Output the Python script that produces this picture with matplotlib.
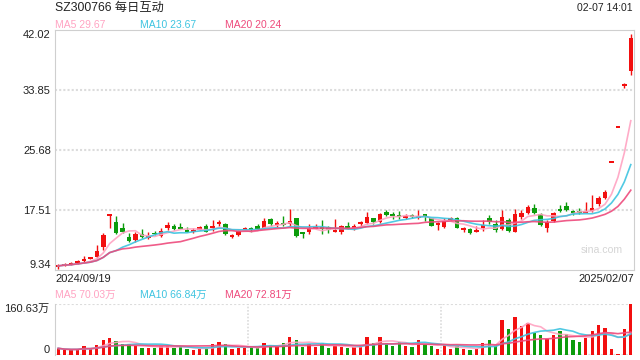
import numpy as np
import pandas as pd
import matplotlib
matplotlib.use("Agg")
import matplotlib.pyplot as plt

plt.rcParams['font.family'] = ['Liberation Sans', 'Noto Sans CJK SC']

# daily candles, 2024/09/19 .. 2025/02/07 (90 trading days)
opens = [9.85, 10.00, 10.10, 10.40, 10.60, 10.95, 11.15, 12.43, 16.85, 15.92,
         15.10, 13.87, 13.42, 14.20, 13.66, 14.42, 14.00, 15.00, 15.37, 15.15,
         14.83, 14.47, 14.83, 15.33, 15.00, 15.65, 15.60, 13.87, 14.11, 14.83,
         15.00, 15.33, 15.10, 16.28, 15.47, 15.74, 15.56, 16.38, 14.38, 14.47,
         15.00, 15.24, 15.15, 14.60, 14.56, 15.33, 15.15, 15.65, 15.74, 16.38,
         15.83, 17.28, 16.97, 16.70, 16.50, 16.79, 16.38, 16.97, 16.38, 15.50,
         15.20, 16.20, 16.47, 14.87, 14.92, 14.60, 15.00, 16.46, 15.56, 14.92,
         16.10, 14.56, 16.51, 17.14, 17.83, 16.92, 15.10, 16.01, 17.51, 18.00,
         17.37, 17.26, 17.24, 17.37, 18.28, 19.18, 24.00, 28.80, 34.40, 36.48]
highs = [10.16, 10.25, 10.40, 10.75, 11.20, 11.15, 12.74, 14.34, 16.92, 16.69,
         15.70, 14.42, 14.47, 14.92, 14.56, 14.65, 15.00, 15.83, 15.60, 15.70,
         15.20, 15.10, 15.33, 15.60, 16.19, 16.19, 15.70, 14.24, 14.79, 15.20,
         15.24, 15.60, 16.38, 16.38, 16.00, 16.69, 17.65, 16.47, 14.47, 15.65,
         15.65, 16.10, 15.37, 16.28, 15.47, 15.83, 15.65, 16.00, 17.28, 16.47,
         17.10, 17.47, 17.20, 17.37, 16.90, 16.97, 17.56, 17.00, 16.47, 15.92,
         16.38, 16.56, 16.56, 15.20, 15.00, 15.28, 16.10, 16.83, 16.10, 17.55,
         16.46, 17.65, 17.55, 18.19, 18.28, 17.10, 16.10, 17.28, 18.19, 18.64,
         17.55, 17.78, 18.64, 19.55, 19.46, 20.30, 24.00, 28.80, 34.80, 41.47]
lows = [9.50, 9.95, 10.00, 10.20, 10.45, 10.85, 10.93, 12.06, 15.00, 14.20,
        14.33, 13.11, 13.20, 13.66, 13.52, 14.11, 13.87, 14.83, 14.74, 14.87,
        14.47, 14.40, 14.74, 14.47, 14.65, 15.37, 14.11, 13.75, 14.00, 14.74,
        14.47, 14.83, 15.00, 15.37, 15.24, 15.37, 15.37, 13.83, 13.75, 14.29,
        14.92, 14.24, 14.33, 14.56, 14.20, 14.92, 14.83, 15.37, 15.65, 15.65,
        15.74, 16.65, 16.28, 16.28, 16.28, 16.38, 16.28, 16.00, 15.28, 14.83,
        15.10, 16.10, 15.00, 14.56, 14.29, 14.56, 14.65, 15.65, 14.56, 14.79,
        14.56, 14.47, 16.28, 16.92, 17.01, 15.37, 14.56, 15.83, 17.28, 17.37,
        16.83, 16.92, 17.19, 17.28, 18.10, 19.00, 24.00, 28.80, 34.10, 35.89]
closes = [9.90, 10.10, 10.20, 10.50, 10.75, 11.00, 11.93, 14.10, 16.92, 14.42,
          14.56, 13.29, 14.24, 13.87, 13.93, 14.20, 14.65, 15.47, 14.92, 15.00,
          14.56, 14.75, 15.20, 14.56, 15.33, 15.92, 14.20, 14.00, 14.65, 15.00,
          14.83, 14.92, 16.05, 15.60, 15.74, 15.56, 16.00, 14.00, 14.29, 15.10,
          15.20, 14.87, 14.83, 14.70, 15.37, 15.00, 15.28, 15.75, 16.56, 15.92,
          16.97, 16.88, 16.65, 16.65, 16.60, 16.56, 16.74, 16.65, 15.37, 15.60,
          16.05, 16.28, 15.10, 14.92, 14.42, 14.65, 15.47, 15.83, 14.79, 16.51,
          14.69, 16.92, 17.10, 17.92, 17.14, 15.47, 15.92, 17.14, 17.42, 17.55,
          17.05, 17.20, 17.30, 17.83, 19.18, 20.00, 24.00, 28.80, 34.56, 40.99]
# volume in 万 shares
volumes = [21.0, 15.8, 15.8, 18.0, 28.4, 21.0, 31.5, 47.0, 54.6, 44.0,
           34.6, 33.6, 28.4, 23.1, 23.1, 23.1, 28.4, 28.4, 23.1, 27.3,
           18.9, 16.8, 18.9, 22.0, 34.6, 42.0, 34.6, 18.9, 23.1, 23.1,
           25.2, 23.1, 38.8, 30.5, 27.3, 38.8, 56.7, 47.3, 25.2, 34.6,
           26.2, 38.9, 22.0, 28.4, 26.2, 22.0, 26.2, 26.2, 57.8, 38.9,
           57.8, 38.9, 28.4, 41.0, 29.4, 26.2, 47.3, 33.6, 28.4, 18.9,
           30.5, 19.9, 28.4, 18.9, 15.8, 19.9, 38.9, 47.3, 30.5, 110.0,
           82.0, 119.7, 91.4, 99.7, 70.4, 63.0, 51.4, 64.0, 75.6, 66.2,
           47.3, 41.0, 54.6, 75.6, 94.5, 85.0, 18.9, 3.0, 82.0, 160.63]

price_ticks = [9.34, 17.51, 25.68, 33.85, 42.02]
vol_top = 160.63
ma_days = [5, 10, 20]
ma_price_text = ["29.67", "23.67", "20.24"]
ma_vol_text = ["70.03万", "66.84万", "72.81万"]
ma_colors = ["#ffa3c2", "#3ec4e0", "#ee4a7c"]
up_color = "#f20f0f"
down_color = "#0c9c0c"
grid_color = "#dcdcdc"
frame_color = "#cfcfcf"

o = np.array(opens)
h = np.array(highs)
l = np.array(lows)
c = np.array(closes)
v = np.array(volumes)
n = len(c)
x = np.arange(n)
colors = np.where(c >= o, up_color, down_color)

fig = plt.figure(figsize=(6.4, 3.6), dpi=100)
ax = fig.add_axes([55/640, 90/360, 579/640, 240/360])
axv = fig.add_axes([55/640, 5/360, 579/640, 51/360])

# price panel
for val in price_ticks[1:-1]:
    ax.axhline(val, color=grid_color, lw=1.5, ls=(0, (1, 1)), zorder=0)
ax.vlines(x, l, h, colors=colors, lw=1, zorder=3)
# flat (doji / one-price) days still get a visible 2px bar
body = np.maximum(np.abs(c - o), 0.27)
ax.bar(x, body, 0.7, bottom=np.minimum(o, c) - (body - np.abs(c - o)) / 2,
       color=colors, lw=0, zorder=4)
for d, col in zip(ma_days, ma_colors):
    ma = pd.Series(c).rolling(d, min_periods=1).mean()
    ax.plot(x, ma, color=col, lw=1.2, alpha=0.9, zorder=5)

ax.set_xlim(-0.5, n - 0.5)
ax.set_ylim(price_ticks[0], price_ticks[-1])
ax.set_xticks([])
ax.set_yticks(price_ticks)
ax.set_yticklabels([f"{t:.2f}" for t in price_ticks])
ax.tick_params(axis='y', length=0, pad=3, labelsize=8, colors='#222222')
labels = ax.get_yticklabels()
labels[0].set_va('bottom')
labels[-1].set_va('top')
for s in ax.spines.values():
    s.set_color(frame_color)
ax.text(0, -0.015, "2024/09/19", transform=ax.transAxes, ha='left', va='top',
        fontsize=8, color='#222222')
ax.text(1, -0.015, "2025/02/07", transform=ax.transAxes, ha='right', va='top',
        fontsize=8, color='#222222')
ax.text(0.98, 0.085, "sina.com", transform=ax.transAxes, ha='right', va='center',
        fontsize=7.6, color='#d5d5d5')

# volume panel
axv.axhline(0, color=grid_color, lw=1.5, ls=(0, (1, 1)), zorder=0)
axv.axhline(vol_top, color=grid_color, lw=1.5, ls=(0, (1, 1)), zorder=0)
for xv in [n / 3 - 0.5, 2 * n / 3 - 0.5]:
    axv.axvline(xv, color=grid_color, lw=1.2, ls=(0, (1, 1)), zorder=0)
axv.bar(x, v, 0.52, color=colors, lw=0, zorder=3)
for d, col in zip(ma_days, ma_colors):
    ma = pd.Series(v).rolling(d, min_periods=1).mean()
    axv.plot(x, ma, color=col, lw=1.2, alpha=0.9, zorder=4)
axv.set_xlim(-0.5, n - 0.5)
axv.set_ylim(0, vol_top)
axv.set_xticks([])
axv.set_yticks([0, vol_top])
axv.set_yticklabels(["0", f"{vol_top:.2f}万"])
axv.tick_params(axis='y', length=0, pad=4, labelsize=8, colors='#222222')
vlabels = axv.get_yticklabels()
vlabels[0].set_va('bottom')
vlabels[1].set_va('top')
for side in ['top', 'right', 'bottom']:
    axv.spines[side].set_visible(False)
axv.spines['left'].set_color(frame_color)

# header texts
fig.text(55/640, 1 - 8/360, "SZ300766 每日互动", ha='left', va='center',
         fontsize=8.8, color='#222222')
fig.text(633/640, 1 - 8/360, "02-07 14:01", ha='right', va='center',
         fontsize=7.5, color='#222222')
for i, (d, col) in enumerate(zip(ma_days, ma_colors)):
    fig.text((55 + 85 * i)/640, 1 - 24.5/360, f"MA{d} {ma_price_text[i]}",
             ha='left', va='center', fontsize=7.5, color=col)
    fig.text((55 + 85 * i)/640, 1 - 295/360, f"MA{d} {ma_vol_text[i]}",
             ha='left', va='center', fontsize=7.5, color=col)

fig.savefig("out.png", dpi=100)
